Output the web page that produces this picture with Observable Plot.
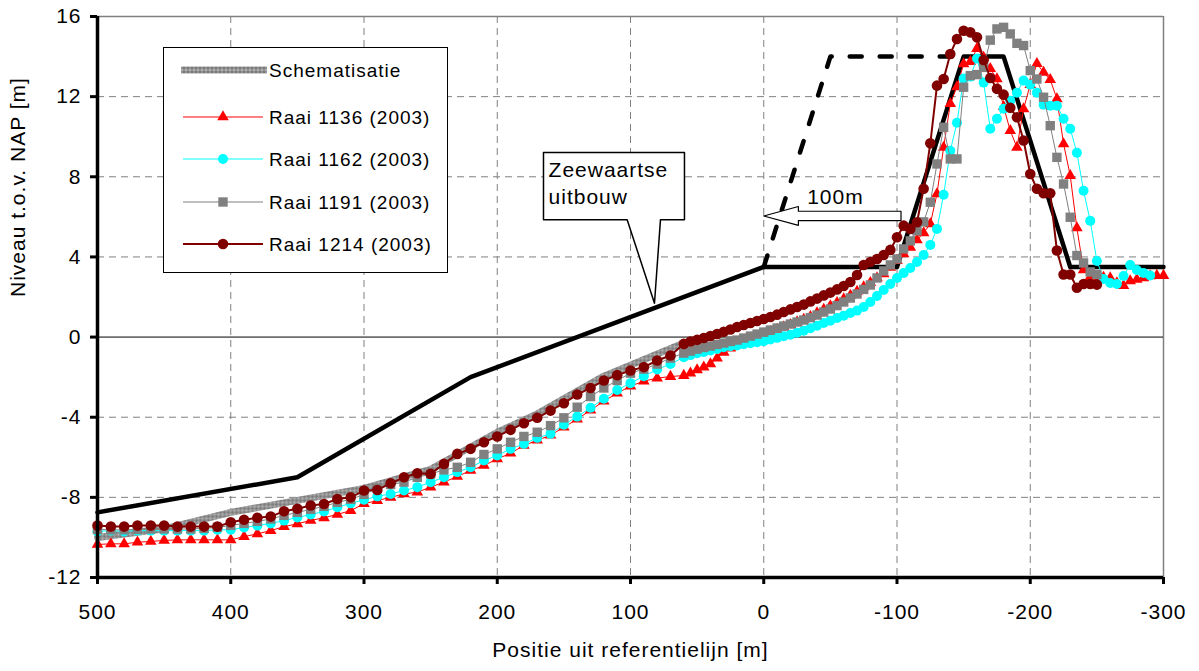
<!DOCTYPE html>
<html><head><meta charset="utf-8">
<script src="https://cdn.jsdelivr.net/npm/d3@7"></script>
<script src="https://cdn.jsdelivr.net/npm/@observablehq/plot@0.6"></script>
<style>
html,body{margin:0;padding:0;background:#fff;}
#chart{width:1199px;height:671px;}
</style></head><body><div id="chart"></div>
<script>
// Axis ticks
const xTicks = [500, 400, 300, 200, 100, 0, -100, -200, -300];
const yTicks = [-12, -8, -4, 0, 4, 8, 12, 16];

// Measuring positions (m from reference line): 10 m offshore, 5 m on beach and dune
const xOffshore = [500,490,480,470,460,450,440,430,420,410,400,390,380,370,360,350,340,330,320,310,300,290,280,270,260,250,240,230,220,210,200,190,180,170,160,150,140,130,120,110,100,90,80,70,60];
const xBeach = [55,50,45,40,35,30,25,20,15,10,5,0,-5,-10,-15,-20,-25,-30,-35,-40,-45,-50,-55,-60,-65,-70,-75,-80,-85,-90,-95,-100,-105,-110,-115,-120,-125,-130,-135,-140,-145,-150,-155,-160,-165,-170,-175,-180,-185,-190,-195,-200,-205,-210,-215,-220,-225,-230,-235,-240,-245,-250,-255,-260,-265,-270,-275,-280,-285,-290,-295,-300];

// Raai 1136 (2003)
const raai1136Off = [-10.35,-10.32,-10.32,-10.24,-10.2,-10.15,-10.12,-10.12,-10.12,-10.12,-10.12,-9.96,-9.82,-9.66,-9.46,-9.32,-9.15,-9.02,-8.85,-8.66,-8.32,-8.16,-8.0,-7.83,-7.74,-7.49,-7.24,-6.96,-6.66,-6.41,-6.08,-5.8,-5.41,-5.15,-4.9,-4.5,-4.1,-3.65,-3.2,-2.8,-2.45,-2.2,-2.05,-1.97,-1.92];
const raai1136Beach = [-1.8,-1.64,-1.5,-1.34,-1.05,-0.76,-0.55,-0.38,-0.22,-0.08,0.05,0.15,0.27,0.38,0.5,0.62,0.75,0.88,1.02,1.2,1.38,1.55,1.72,1.9,2.08,2.28,2.5,2.72,2.95,3.15,3.48,3.82,4.15,4.48,4.85,5.2,5.65,7.15,9.47,11.65,12.48,13.63,13.75,14.4,13.96,13.4,12.88,11.5,10.3,9.47,11.39,12.6,13.65,13.21,12.85,11.89,9.64,8.06,5.45,3.35,3.0,2.9,2.98,2.95,2.7,2.57,2.8,2.88,2.95,3.05,3.07,3.07];

// Raai 1162 (2003)
const raai1162Off = [-9.7,-9.66,-9.7,-9.66,-9.66,-9.66,-9.66,-9.66,-9.66,-9.62,-9.62,-9.5,-9.41,-9.3,-9.16,-9.0,-8.86,-8.7,-8.49,-8.3,-8.12,-7.95,-7.83,-7.66,-7.49,-7.24,-7.0,-6.74,-6.5,-6.16,-5.91,-5.58,-5.33,-5.03,-4.83,-4.37,-3.97,-3.53,-3.08,-2.64,-2.3,-1.95,-1.62,-1.34,-1.01];
const raai1162Beach = [-0.9,-0.81,-0.74,-0.67,-0.59,-0.51,-0.46,-0.42,-0.36,-0.31,-0.26,-0.21,-0.12,-0.04,0.04,0.12,0.22,0.32,0.44,0.57,0.7,0.82,0.95,1.07,1.2,1.32,1.5,1.75,2.05,2.35,2.65,2.95,3.2,3.45,3.75,4.1,4.6,5.4,7.1,9.3,10.7,12.9,13.0,13.9,12.7,10.4,10.9,11.4,11.8,12.2,12.8,12.6,12.2,11.6,11.55,11.55,10.9,10.4,9.2,7.3,5.8,3.8,2.9,2.7,2.65,3.05,3.6,3.35,3.2,3.07];

// Raai 1191 (2003)
const raai1191Off = [-9.6,-9.62,-9.62,-9.6,-9.58,-9.58,-9.58,-9.58,-9.55,-9.5,-9.4,-9.3,-9.2,-9.08,-8.9,-8.75,-8.6,-8.45,-8.25,-8.1,-7.85,-7.55,-7.36,-7.24,-7.0,-6.83,-6.63,-6.5,-6.25,-5.86,-5.58,-5.25,-4.96,-4.75,-4.42,-4.03,-3.5,-2.97,-2.54,-2.17,-1.8,-1.6,-1.35,-1.05,-0.8];
const raai1191Beach = [-0.7,-0.6,-0.52,-0.45,-0.37,-0.3,-0.22,-0.15,-0.05,0.05,0.15,0.25,0.35,0.45,0.55,0.65,0.75,0.85,0.97,1.1,1.25,1.4,1.57,1.75,1.95,2.15,2.38,2.6,2.95,3.3,3.6,3.9,4.4,4.8,5.3,5.75,6.73,8.64,10.47,8.89,8.89,12.47,13.05,13.1,13.46,14.82,15.38,15.46,15.13,14.66,14.55,13.3,12.88,11.97,10.55,8.97,7.64,5.98,4.07,3.7,3.25,3.12];

// Raai 1214 (2003)
const raai1214Off = [-9.41,-9.46,-9.46,-9.41,-9.41,-9.41,-9.46,-9.46,-9.46,-9.46,-9.24,-9.12,-9.02,-8.96,-8.69,-8.57,-8.41,-8.33,-8.08,-8.0,-7.66,-7.63,-7.3,-7.0,-6.8,-6.83,-6.33,-5.83,-5.58,-5.25,-4.96,-4.63,-4.3,-4.03,-3.67,-3.3,-2.87,-2.54,-2.17,-1.9,-1.67,-1.5,-1.17,-0.92,-0.34];
const raai1214Beach = [-0.22,-0.14,-0.05,0.05,0.15,0.26,0.38,0.5,0.6,0.7,0.8,0.9,1.0,1.12,1.25,1.38,1.5,1.62,1.78,1.92,2.08,2.22,2.38,2.55,2.75,3.1,3.6,3.75,3.9,4.1,4.35,4.98,5.56,5.4,5.73,7.4,9.67,12.55,12.88,14.13,14.88,15.29,15.21,14.96,13.83,12.93,12.39,12.1,11.44,10.97,9.81,8.14,7.4,7.18,7.18,4.32,3.12,3.12,2.46,2.65,2.65,2.62];

// Schematised profile
const schemX = [500, 450, 400, 300, 250, 200, 170, 120, 60];
const schemY = [-10, -9.57, -8.75, -7.55, -6.6, -4.75, -3.83, -1.95, -0.3];

// Profile with seaward extension (solid) and shifted dune face (dashed)
const extX = [500, 350, 220, 0, -100, -150, -180, -230, -300];
const extY = [-8.75, -7, -2, 3.5, 3.5, 14, 14, 3.5, 3.5];
const shiftX = [0, -50, -150];
const shiftY = [3.5, 14, 14];

// Callout "Zeewaartse uitbouw" and the 100 m arrow, in data units
const calloutX = [165.3, 59.5, 59.5, 77.5, 82, 102.5, 165.3, 165.3];
const calloutY = [9.21, 9.21, 5.86, 5.86, 1.69, 5.86, 5.86, 9.21];
const calloutText = "Zeewaartse\nuitbouw";
const arrowX = [0, -26, -26, -103, -103, -26, -26, 0];
const arrowY = [6.045, 6.515, 6.28, 6.28, 5.81, 5.81, 5.575, 6.045];
const arrowText = "100m";

const seriesNames = ["Schematisatie", "Raai 1136 (2003)", "Raai 1162 (2003)", "Raai 1191 (2003)", "Raai 1214 (2003)"];
const seriesColors = ["#808080", "#ff0000", "#00ffff", "#808080", "#800000"];

const pts = (xs, ys) => ys.map((y, i) => ({x: xs[i], y}));
const join = (off, beach) => pts(xOffshore, off).concat(pts(xBeach, beach));

const r1136 = join(raai1136Off, raai1136Beach);
const r1162 = join(raai1162Off, raai1162Beach);
const r1191 = join(raai1191Off, raai1191Beach);
const r1214 = join(raai1214Off, raai1214Beach);
const schem = pts(schemX, schemY);
const ext = pts(extX, extY);
const shift = pts(shiftX, shiftY);
const callout = pts(calloutX, calloutY);
const arrow = pts(arrowX, arrowY);

const FONT = "Liberation Sans, Arial, Helvetica, sans-serif";

const chart = Plot.plot({
  width: 1199,
  height: 671,
  marginLeft: 97,
  marginRight: 36,
  marginTop: 16,
  marginBottom: 94,
  style: {fontFamily: FONT, fontSize: "21px", letterSpacing: "1px", background: "white", color: "black", overflow: "visible"},
  x: {domain: [500, -300]},
  y: {domain: [-12, 16]},
  marks: [
    Plot.gridX([400, 300, 200, 100, 0, -100, -200], {stroke: "#808080", strokeOpacity: 1, strokeWidth: 1, strokeDasharray: "7,5"}),
    Plot.gridY([-8, -4, 4, 8, 12], {stroke: "#808080", strokeOpacity: 1, strokeWidth: 1, strokeDasharray: "7,5"}),
    Plot.ruleX([-300], {stroke: "#808080", strokeWidth: 1.5}),
    Plot.ruleY([16], {stroke: "#808080", strokeWidth: 1.5}),
    Plot.ruleY([0], {stroke: "black", strokeWidth: 1}),

    // schematised profile, drawn as a hatched band
    Plot.line(schem, {x: "x", y: "y", stroke: "url(#schemHatch)", strokeWidth: 7}),

    // seaward extension
    Plot.line(ext, {x: "x", y: "y", stroke: "black", strokeWidth: 4.5}),
    Plot.line(shift, {x: "x", y: "y", stroke: "black", strokeWidth: 4.5, strokeDasharray: "12,18"}),

    // measured profiles
    Plot.line(r1136, {x: "x", y: "y", stroke: "#ff0000", strokeWidth: 1}),
    Plot.dot(r1136, {x: "x", y: "y", symbol: "triangle", r: 4.3, fill: "#ff0000", stroke: "none"}),
    Plot.line(r1162, {x: "x", y: "y", stroke: "#00ffff", strokeWidth: 1}),
    Plot.dot(r1162, {x: "x", y: "y", symbol: "circle", r: 5, fill: "#00ffff", stroke: "none"}),
    Plot.line(r1191, {x: "x", y: "y", stroke: "#808080", strokeWidth: 1}),
    Plot.dot(r1191, {x: "x", y: "y", symbol: "square", r: 5.3, fill: "#808080", stroke: "none"}),
    Plot.line(r1214, {x: "x", y: "y", stroke: "#800000", strokeWidth: 2}),
    Plot.dot(r1214, {x: "x", y: "y", symbol: "circle", r: 5.3, fill: "#800000", stroke: "none"}),

    // callout and arrow
    Plot.line(callout, {x: "x", y: "y", stroke: "black", strokeWidth: 1.5, fill: "white"}),
    Plot.text([calloutText], {x: 161.5, y: 8.95, text: d => d, textAnchor: "start", lineAnchor: "top", lineHeight: 1.3, fontSize: 21, fill: "black"}),
    Plot.line(arrow, {x: "x", y: "y", stroke: "black", strokeWidth: 1.2, fill: "white"}),
    Plot.text([arrowText], {x: -53.8, y: 7.0, text: d => d, textAnchor: "middle", fontSize: 21, fill: "black"}),

    // axes
    Plot.ruleX([500], {stroke: "black", strokeWidth: 3.5}),
    Plot.ruleY([-12], {stroke: "black", strokeWidth: 3.5}),
    Plot.axisX(xTicks, {anchor: "bottom", tickSize: 7, tickPadding: 20, strokeWidth: 3, fontSize: 21, tickFormat: d => `${d}`, label: null}),
    Plot.axisY(yTicks, {anchor: "left", tickSize: 7, tickPadding: 9, strokeWidth: 3, fontSize: 21, tickFormat: d => `${d}`, label: null}),
    Plot.text(["Positie uit referentielijn [m]"], {frameAnchor: "bottom", dy: 79, text: d => d, fontSize: 21, fill: "black"}),
    Plot.text(["Niveau t.o.v. NAP [m]"], {frameAnchor: "left", dx: -79, rotate: -90, text: d => d, fontSize: 21, fill: "black"})
  ]
});

document.getElementById("chart").appendChild(chart);

// hatch pattern used for the schematised profile
const svg = d3.select(chart);
const defs = svg.insert("defs", ":first-child");
const pat = defs.append("pattern").attr("id", "schemHatch").attr("patternUnits", "userSpaceOnUse")
  .attr("width", 4).attr("height", 4);
pat.append("rect").attr("width", 4).attr("height", 4).attr("fill", "#7a7a7a");
pat.append("circle").attr("cx", 2).attr("cy", 2).attr("r", 1.1).attr("fill", "none").attr("stroke", "#d8d8d8").attr("stroke-width", 0.7);

// legend box
const lg = svg.append("g").attr("font-family", FONT).attr("font-size", 19).attr("text-anchor", "start");
lg.append("rect").attr("x", 163.5).attr("y", 47.5).attr("width", 284).attr("height", 225)
  .attr("fill", "white").attr("stroke", "black").attr("stroke-width", 1);
const rowY = [70, 117, 159, 202, 244];
const symbols = [null, d3.symbolTriangle, d3.symbolCircle, d3.symbolSquare, d3.symbolCircle];
const symSize = [0, Math.PI * 4.3 * 4.3, Math.PI * 25, Math.PI * 5.3 * 5.3, Math.PI * 5.3 * 5.3];
const lineW = [0, 1, 1, 1, 2];
seriesNames.forEach((name, i) => {
  const y = rowY[i];
  if (i === 0) {
    lg.append("rect").attr("x", 181).attr("y", y - 3.5).attr("width", 86).attr("height", 7).attr("fill", "url(#schemHatch)");
  } else {
    lg.append("line").attr("x1", 183).attr("x2", 263).attr("y1", y).attr("y2", y)
      .attr("stroke", seriesColors[i]).attr("stroke-width", lineW[i]);
    lg.append("path").attr("transform", `translate(223,${y})`)
      .attr("d", d3.symbol(symbols[i], symSize[i])()).attr("fill", seriesColors[i]);
  }
  lg.append("text").attr("x", 269).attr("y", y).attr("dy", "0.35em").attr("fill", "black").text(name);
});
</script></body></html>
